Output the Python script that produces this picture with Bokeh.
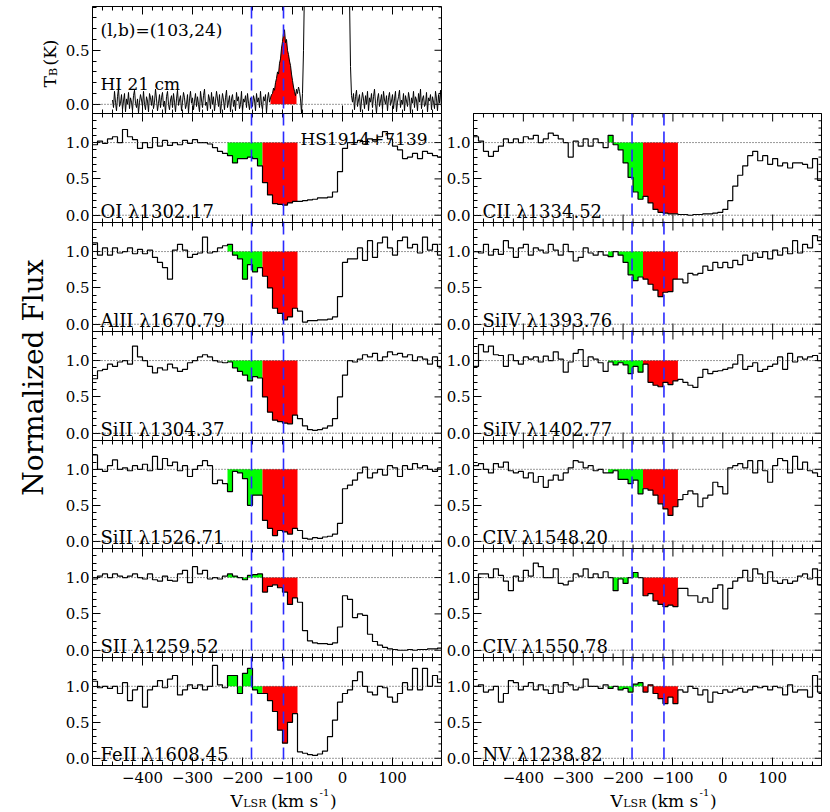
import numpy as np
from bokeh.plotting import figure
from bokeh.layouts import row, column
from bokeh.models import (Range1d, FixedTicker, Span, Label, LinearAxis, Spacer,
                          CustomJSTickFormatter)
from bokeh.embed import file_html
from bokeh.resources import INLINE

FONT = "DejaVu Serif"

# ---------------- data ----------------
vel_edges = np.arange(-500, 201, 10)          # 10 km/s bins, 70 bins
x_major = [-400, -300, -200, -100, 0, 100]
x_minor = list(range(-480, 200, 20))
y_major = [0.0, 0.5, 1.0]
y_minor = [round(-0.1 + 0.1 * i, 1) for i in range(16)]
hi_major = [0.0, 0.5]
hi_minor = [round(-0.1 + 0.1 * i, 1) for i in range(11)]
dash_v = [-182, -118]
green_win = (-230, -160)
red_win = (-160, -90)
hi_red_win = (-144, -92)

HI_v = np.arange(-460, 201, 2)
HI_T = [0.04, -0.03, 0.12, 0.02, -0.06, 0.07, 0.15, -0.02, 0.01, 0.09, -0.05, 0.03, 0.10, -0.07, 0.05, 0.00, 0.11, -0.04, 0.06, 0.02,
        -0.06, 0.08, 0.13, 0.01, -0.03, 0.05, -0.08, 0.02, 0.09, 0.04, -0.02, 0.12, 0.00, -0.05, 0.07, 0.03, -0.07, 0.10, 0.06, -0.01,
        0.08, -0.04, 0.02, 0.14, 0.05, -0.06, 0.01, 0.09, -0.03, 0.06, 0.11, -0.02, 0.03, -0.08, 0.07, 0.12, 0.00, -0.05, 0.04, 0.08,
        -0.03, 0.10, 0.02, -0.07, 0.05, 0.13, -0.01, 0.04, 0.08, -0.06, 0.02, 0.11, 0.06, -0.04, 0.00, 0.09, -0.08, 0.05, 0.12, 0.01,
        0.06, -0.05, 0.03, 0.10, -0.02, 0.07, 0.00, -0.07, 0.12, 0.04, -0.03, 0.08, 0.14, -0.01, 0.02, -0.06, 0.09, 0.05, -0.04, 0.11,
        0.00, 0.07, -0.06, 0.03, 0.12, 0.05, -0.02, 0.09, -0.08, 0.01, 0.10, 0.04, -0.05, 0.06, 0.13, -0.03, 0.02, 0.08, -0.07, 0.05,
        0.09, -0.02, 0.04, -0.06, 0.11, 0.03, 0.07, -0.04, 0.00, 0.12, -0.07, 0.05, 0.02, 0.08, -0.03, 0.10, 0.01, -0.05, 0.06, 0.03,
        -0.02, 0.08, 0.04, -0.06, 0.10, 0.02, 0.06, -0.03, 0.12, 0.00, -0.05, 0.07, 0.03, 0.09, -0.08, 0.05, 0.11, 0.02, 0.06, 0.09,
        0.10, 0.15, 0.13, 0.20, 0.24, 0.30, 0.28, 0.38, 0.42, 0.52, 0.58, 0.66, 0.69, 0.57, 0.60, 0.50, 0.46, 0.40, 0.36, 0.28,
        0.22, 0.16, 0.12, 0.08, 0.14, 0.10, 0.16, 0.12, 0.05, -0.08, 0.10, 0.50, 1.10, 3.00, 3.00, 3.00, 3.00, 3.00, 3.00, 3.00,
        3.00, 3.00, 3.00, 3.00, 3.00, 3.00, 3.00, 3.00, 3.00, 3.00, 3.00, 3.00, 3.00, 3.00, 3.00, 3.00, 3.00, 3.00, 3.00, 3.00,
        3.00, 3.00, 3.00, 3.00, 3.00, 3.00, 3.00, 3.00, 3.00, 3.00, 3.00, 3.00, 3.00, 3.00, 3.00, 3.00, 3.00, 1.00, 0.35, 0.08,
        0.02, 0.10, -0.05, 0.07, 0.13, -0.02, 0.04, 0.09, -0.07, 0.03, 0.11, 0.05, -0.04, 0.08, 0.00, 0.12, -0.06, 0.06, 0.02, 0.10,
        -0.03, 0.07, 0.14, 0.01, -0.08, 0.05, 0.10, -0.02, 0.03, 0.09, -0.05, 0.12, 0.04, 0.00, 0.08, -0.06, 0.06, 0.11, -0.01, 0.03,
        0.09, -0.04, 0.05, 0.12, -0.07, 0.02, 0.07, 0.13, -0.03, 0.04, 0.00, 0.10, -0.06, 0.08, 0.03, -0.02, 0.11, 0.05, -0.08, 0.06,
        0.01, 0.12, -0.03, 0.07, 0.04, -0.06, 0.10, 0.02, 0.14, -0.04, 0.05, 0.08, -0.02, 0.00, 0.11, -0.07, 0.06, 0.03, 0.09, -0.05,
        0.07, 0.02, -0.04, 0.12, 0.05, -0.06, 0.09, 0.01, 0.13, -0.03, 0.06]

OI = [0.97, 1.02, 0.99, 1.05, 1.08, 1.00, 1.18, 1.08, 1.04, 0.92,
      1.00, 0.93, 1.07, 0.95, 1.03, 0.96, 1.00, 0.97, 1.03, 0.99,
      1.04, 1.00, 1.00, 0.98, 0.93, 0.88, 0.85, 0.82, 0.72, 0.78,
      0.78, 0.80, 0.78, 0.68, 0.45, 0.28, 0.16, 0.15, 0.14, 0.17,
      0.19, 0.19, 0.20, 0.21, 0.22, 0.24, 0.24, 0.25, 0.32, 0.60,
      0.92, 1.00, 1.00, 1.03, 0.98, 1.05, 1.02, 1.08, 1.15, 1.05,
      0.95, 0.90, 0.78, 0.80, 0.85, 0.78, 0.88, 0.85, 0.82, 0.80]
AlII = [1.12, 0.95, 1.05, 0.95, 1.05, 0.98, 1.00, 1.05, 0.97, 1.03,
        0.97, 1.02, 0.92, 0.85, 0.78, 0.62, 1.02, 1.10, 1.02, 0.92,
        0.96, 0.98, 1.20, 0.98, 1.00, 1.05, 1.08, 1.10, 0.95, 0.90,
        0.62, 0.82, 0.72, 0.78, 0.66, 0.50, 0.22, 0.15, 0.06, 0.10,
        0.22, 0.18, 0.03, 0.05, 0.05, 0.06, 0.06, 0.07, 0.10, 0.38,
        0.85, 0.90, 0.90, 1.05, 0.88, 1.15, 0.92, 1.12, 1.20, 1.05,
        0.95, 1.15, 1.20, 1.05, 1.10, 0.98, 1.20, 1.02, 1.10, 0.95]
SiII1304 = [0.75, 0.86, 0.88, 0.95, 0.92, 0.98, 1.00, 0.95, 1.20, 1.05,
            1.00, 0.92, 0.83, 0.90, 0.87, 0.95, 0.90, 0.85, 0.88, 0.97,
            1.00, 1.05, 1.08, 1.05, 1.00, 0.98, 0.97, 0.98, 0.90, 0.85,
            0.80, 0.72, 0.78, 0.76, 0.50, 0.29, 0.18, 0.16, 0.14, 0.13,
            0.25, 0.20, 0.10, 0.05, 0.04, 0.05, 0.07, 0.10, 0.20, 0.50,
            0.80, 1.00, 0.98, 1.02, 1.08, 1.05, 1.10, 1.00, 1.05, 1.12,
            1.08, 1.10, 1.05, 1.08, 1.00, 1.05, 1.02, 0.95, 1.05, 0.92]
SiII1526 = [1.20, 1.00, 0.97, 1.05, 1.13, 1.00, 1.02, 0.98, 1.05, 1.00,
            1.07, 0.98, 1.18, 1.00, 1.15, 1.05, 1.10, 0.98, 1.05, 0.90,
            1.00, 1.05, 1.12, 1.05, 0.80, 0.85, 0.80, 0.69, 0.97, 0.95,
            0.87, 0.50, 0.64, 0.64, 0.29, 0.18, 0.08, 0.15, 0.13, 0.10,
            0.18, 0.15, 0.04, 0.03, 0.05, 0.04, 0.06, 0.07, 0.10, 0.25,
            0.73, 0.78, 0.85, 0.95, 1.03, 0.88, 0.95, 1.00, 0.92, 1.05,
            1.02, 0.90, 1.05, 1.00, 1.08, 1.02, 1.05, 1.00, 0.97, 1.02]
SII = [0.98, 1.02, 1.05, 1.00, 1.05, 1.02, 1.00, 1.02, 1.05, 1.00,
       0.98, 1.05, 0.97, 0.95, 1.02, 0.96, 0.95, 1.05, 1.10, 0.93,
       1.15, 1.05, 1.10, 0.98, 1.00, 0.98, 1.02, 1.05, 1.02, 1.00,
       0.97, 1.03, 1.04, 1.05, 0.80, 0.88, 0.90, 0.86, 0.80, 0.63,
       0.72, 0.66, 0.27, 0.13, 0.10, 0.09, 0.09, 0.08, 0.10, 0.32,
       0.75, 0.70, 0.45, 0.50, 0.48, 0.22, 0.12, 0.07, 0.04, 0.02,
       0.01, 0.00, 0.00, 0.01, 0.00, 0.01, 0.01, 0.02, 0.02, 0.03]
FeII = [1.07, 0.98, 1.00, 0.97, 1.00, 0.90, 1.05, 0.80, 0.95, 1.00,
        0.71, 0.95, 1.00, 1.08, 0.98, 1.10, 1.15, 0.88, 0.95, 1.02,
        0.97, 1.02, 0.95, 1.00, 1.29, 1.02, 0.98, 1.15, 1.15, 0.90,
        1.18, 1.25, 0.95, 0.90, 0.90, 0.80, 0.65, 0.39, 0.21, 0.50,
        0.62, 0.09, 0.07, 0.05, 0.04, 0.06, 0.10, 0.30, 0.53, 0.78,
        0.90, 0.95, 1.08, 1.20, 1.00, 0.92, 0.88, 1.00, 0.98, 0.85,
        0.78, 0.90, 1.05, 0.95, 1.25, 0.95, 1.25, 1.00, 1.15, 1.05]
CII = [1.08, 1.02, 0.88, 0.81, 0.88, 0.95, 1.05, 1.00, 1.05, 1.00,
       1.08, 1.05, 1.10, 1.00, 1.05, 1.13, 1.10, 1.05, 1.00, 0.80,
       1.02, 0.95, 1.05, 0.95, 1.05, 1.00, 0.93, 1.10, 0.97, 0.90,
       0.72, 0.52, 0.32, 0.22, 0.26, 0.17, 0.08, 0.04, 0.03, 0.02,
       0.02, 0.01, 0.01, 0.00, 0.01, 0.01, 0.02, 0.02, 0.03, 0.04,
       0.08, 0.20, 0.40, 0.55, 0.68, 0.82, 0.88, 0.75, 0.82, 0.70,
       0.78, 0.68, 0.72, 0.65, 0.72, 0.72, 0.70, 0.65, 0.78, 0.48]
SiIV1393 = [1.00, 0.98, 1.10, 0.95, 1.03, 0.96, 1.15, 1.05, 0.92, 1.05,
            1.10, 0.95, 1.05, 1.02, 0.98, 1.10, 1.02, 0.95, 1.10, 1.00,
            0.87, 0.92, 1.05, 0.98, 0.95, 1.00, 0.95, 0.93, 1.00, 0.95,
            0.85, 0.68, 0.60, 0.65, 0.62, 0.55, 0.47, 0.38, 0.44, 0.45,
            0.62, 0.62, 0.57, 0.70, 0.68, 0.70, 0.80, 0.74, 0.85, 0.78,
            0.85, 0.78, 0.88, 0.82, 0.95, 0.88, 0.98, 0.92, 1.00, 0.90,
            1.02, 0.95, 1.05, 0.97, 1.15, 0.98, 1.10, 1.05, 1.22, 1.15]
SiIV1402 = [0.92, 1.22, 1.12, 1.20, 1.08, 1.07, 0.92, 1.08, 1.00, 0.95,
            1.05, 1.02, 1.05, 0.98, 1.06, 1.00, 1.12, 1.02, 0.84, 0.98,
            1.10, 1.15, 0.92, 1.05, 1.02, 0.97, 0.85, 0.98, 0.94, 0.97,
            0.94, 0.82, 0.92, 0.84, 0.95, 0.70, 0.66, 0.64, 0.70, 0.67,
            0.72, 0.74, 0.70, 0.66, 0.63, 0.77, 0.88, 0.82, 0.85, 0.86,
            0.88, 0.90, 0.95, 1.08, 0.88, 0.92, 0.97, 0.85, 0.88, 0.92,
            0.95, 1.05, 0.88, 1.10, 0.98, 1.05, 1.02, 1.05, 1.07, 1.00]
CIV1548 = [1.05, 1.08, 1.00, 0.95, 1.08, 1.03, 1.10, 0.98, 0.95, 0.97,
           0.88, 0.95, 0.82, 0.90, 0.75, 0.85, 0.92, 0.85, 0.95, 1.02,
           1.12, 1.10, 1.02, 1.05, 0.98, 1.00, 0.95, 0.95, 0.98, 0.86,
           0.86, 0.80, 0.85, 0.66, 0.73, 0.71, 0.64, 0.52, 0.45, 0.36,
           0.48, 0.58, 0.65, 0.70, 0.66, 0.48, 0.60, 0.64, 0.82, 0.76,
           0.66, 1.02, 1.05, 1.08, 1.02, 1.12, 0.95, 1.12, 0.98, 0.82,
           1.05, 1.15, 1.12, 0.95, 1.18, 1.00, 1.10, 0.98, 0.95, 0.90]
CIV1550 = [0.70, 1.05, 1.05, 1.00, 1.12, 1.03, 0.95, 0.82, 1.02, 0.95,
           1.10, 1.02, 1.20, 1.15, 1.00, 1.00, 1.12, 0.92, 0.90, 0.95,
           1.05, 1.02, 1.12, 1.00, 1.05, 1.00, 1.08, 1.00, 0.82, 0.98,
           0.92, 1.00, 1.07, 1.00, 0.75, 0.78, 0.68, 0.63, 0.60, 0.62,
           0.60, 0.85, 0.85, 0.75, 0.75, 0.66, 0.72, 0.66, 0.85, 0.90,
           0.57, 0.85, 0.95, 1.00, 1.10, 0.95, 1.12, 1.05, 0.92, 1.08,
           0.95, 0.92, 0.97, 0.92, 0.95, 1.02, 1.05, 0.98, 1.12, 0.90]
NV = [1.00, 1.02, 0.92, 0.95, 1.00, 0.78, 0.90, 1.08, 1.05, 0.95,
      1.00, 1.05, 0.95, 1.02, 0.95, 0.90, 1.02, 0.92, 1.05, 1.02,
      0.95, 0.98, 1.10, 1.00, 1.00, 0.97, 1.02, 0.97, 1.00, 0.95,
      0.97, 0.92, 1.03, 1.05, 0.92, 1.02, 0.90, 0.83, 0.76, 0.85,
      0.76, 0.95, 0.92, 1.00, 0.97, 0.88, 0.95, 0.78, 0.92, 0.90,
      0.95, 0.92, 0.95, 0.97, 0.92, 0.95, 1.00, 0.98, 1.00, 0.95,
      1.00, 0.98, 0.88, 1.02, 0.92, 0.95, 0.95, 0.85, 1.15, 0.92]

left_spectra = [("OI λ1302.17", OI), ("AlII λ1670.79", AlII),
                ("SiII λ1304.37", SiII1304), ("SiII λ1526.71", SiII1526),
                ("SII λ1259.52", SII), ("FeII λ1608.45", FeII)]
right_spectra = [("CII λ1334.52", CII), ("SiIV λ1393.76", SiIV1393),
                 ("SiIV λ1402.77", SiIV1402), ("CIV λ1548.20", CIV1548),
                 ("CIV λ1550.78", CIV1550), ("NV λ1238.82", NV)]

# ---------------- layout constants ----------------
XR = (-500, 200)
YR = (-0.1, 1.4)
HIR = (-0.085, 0.905)
NF_W = 60
L_BORDER = 32
FW_L = 350
R_BORDER = 31
FW_R = 349
TOP = 6
HI_FH = 107
PANEL_H = [109, 109, 109, 108, 109, 108]
OV = 12            # overlap below non-bottom panels (room for tick labels)
BOT_BORDER = 36    # border under bottom panels (tick labels)
BOT_PULL = 22      # title strip pulled up over that border
TITLE_H = 32
TOTAL_H = TOP + HI_FH + sum(PANEL_H) + BOT_BORDER - BOT_PULL + TITLE_H

xfmt = CustomJSTickFormatter(code="return (tick < 0) ? '\u2212' + Math.abs(tick) : String(tick);")
yfmt = CustomJSTickFormatter(code="return tick.toFixed(1);")


def style_axis(ax, fmt, standoff):
    ax.major_tick_in = 8
    ax.major_tick_out = 0
    ax.minor_tick_in = 4
    ax.minor_tick_out = 0
    ax.axis_line_color = "black"
    ax.major_tick_line_color = "black"
    ax.minor_tick_line_color = "black"
    ax.formatter = fmt
    ax.major_label_text_font = FONT
    ax.major_label_text_font_size = "15px"
    ax.major_label_text_color = "black"
    ax.major_label_standoff = standoff


def add_edge_ticks(p, yr, fh, fw, ymaj, ymin, bottom):
    dx = (XR[1] - XR[0]) / fw
    dy = (yr[1] - yr[0]) / fh
    x0, y0, x1, y1 = [], [], [], []
    xmin_only = [t for t in x_minor if t not in x_major]
    for ticks, L in ((x_major, 8), (xmin_only, 4)):
        for t in ticks:
            x0.append(t); y0.append(yr[1]); x1.append(t); y1.append(yr[1] - L * dy)
            if bottom:
                x0.append(t); y0.append(yr[0]); x1.append(t); y1.append(yr[0] + L * dy)
    ymin_only = [t for t in ymin if t not in ymaj]
    for ticks, L in ((ymaj, 8), (ymin_only, 4)):
        for t in ticks:
            x0.append(XR[1]); y0.append(t); x1.append(XR[1] - L * dx); y1.append(t)
    p.segment(x0=x0, y0=y0, x1=x1, y1=y1, line_color="black", line_width=1)


def make_fig(frame_w, border_l, frame_h, yr, ymaj, ymin, bottom_axis, top_border=0):
    bb = BOT_BORDER if bottom_axis else OV
    pull = BOT_PULL if bottom_axis else OV
    p = figure(frame_width=frame_w, frame_height=frame_h,
               x_range=Range1d(*XR), y_range=Range1d(*yr),
               x_axis_location=None, y_axis_location=None,
               toolbar_location=None, output_backend="svg",
               min_border_left=border_l, min_border_right=0, min_border_top=top_border,
               min_border_bottom=bb, margin=(0, 0, -pull, 0))
    p.xgrid.grid_line_color = None
    p.ygrid.grid_line_color = None
    p.outline_line_color = "black"
    p.background_fill_color = "white"
    p.border_fill_color = None
    yax = LinearAxis(ticker=FixedTicker(ticks=ymaj, minor_ticks=ymin))
    style_axis(yax, yfmt, 3)
    p.add_layout(yax, "left")
    if bottom_axis:
        xax = LinearAxis(ticker=FixedTicker(ticks=x_major, minor_ticks=x_minor))
        style_axis(xax, xfmt, 6)
        p.add_layout(xax, "below")
    add_edge_ticks(p, yr, frame_h, frame_w, ymaj, ymin, not bottom_axis)
    return p


def add_label(p, x, y, text, size, align="left", baseline="alphabetic", angle=0.0):
    p.add_layout(Label(x=x, y=y, text=text, text_font=FONT, text_font_size=size,
                       text_align=align, text_baseline=baseline, angle=angle,
                       text_color="black"))


def add_dashes(p):
    for v in dash_v:
        p.add_layout(Span(location=v, dimension="height", line_color="#2a2aff",
                          line_width=1.6, line_dash="12 6"))


def spectrum_panel(name, flux, frame_w, border_l, frame_h, bottom_axis, left_col):
    p = make_fig(frame_w, border_l, frame_h, YR, y_major, y_minor, bottom_axis)
    f = np.array(flux)
    for (lo, hi), col in ((green_win, "#00ff00"), (red_win, "#ff0000")):
        i0 = int(np.searchsorted(vel_edges, lo))
        i1 = int(np.searchsorted(vel_edges, hi))
        xs = vel_edges[i0:i1 + 1]
        ys = list(f[i0:i1]) + [f[i1 - 1]]
        p.varea_step(x=xs, y1=ys, y2=[1.0] * len(xs), step_mode="after",
                     fill_color=col)
    p.step(x=list(vel_edges), y=list(f) + [f[-1]], mode="after",
           line_color="black", line_width=1.2)
    for loc in (1.0, 0.0):
        p.add_layout(Span(location=loc, dimension="width", line_color="#333333",
                          line_width=1, line_dash="1 2"))
    add_dashes(p)
    kms_per_px = (XR[1] - XR[0]) / frame_w
    add_label(p, XR[0] + (8 if left_col else 9) * kms_per_px, 0.05, name, "18px")
    return p


def title_fig(border_l, frame_w):
    w = border_l + frame_w
    t = figure(frame_width=w, frame_height=TITLE_H, x_range=Range1d(0, w),
               y_range=Range1d(0, TITLE_H), x_axis_location=None, y_axis_location=None,
               toolbar_location=None, output_backend="svg", min_border=0)
    t.outline_line_color = None
    t.background_fill_color = None
    t.border_fill_color = None
    t.xgrid.grid_line_color = None
    t.ygrid.grid_line_color = None
    x0 = border_l + 106
    add_label(t, x0, 11, "V", "17px")
    add_label(t, x0 + 12.8, 8, "LSR", "11px")
    add_label(t, x0 + 40.6, 11, "(km s", "17px")
    add_label(t, x0 + 89, 19, "-1", "10px")
    add_label(t, x0 + 99.5, 11, ")", "17px")
    return t


# ---------------- HI panel ----------------
hi = make_fig(FW_L, L_BORDER, HI_FH, HIR, hi_major, hi_minor, False, top_border=TOP)
hv = np.array(HI_v, dtype=float)
ht = np.array(HI_T)
m = (hv >= hi_red_win[0]) & (hv <= hi_red_win[1])
hi.varea(x=hv[m], y1=0.0, y2=np.clip(ht[m], 0, None), fill_color="#ff0000")
hi.line(hv, ht, line_color="black", line_width=1)
hi.add_layout(Span(location=0.0, dimension="width", line_color="#333333",
                   line_width=1, line_dash="1 2"))
add_dashes(hi)
add_label(hi, -484, 0.685, "(l,b)=(103,24)", "17px")
add_label(hi, -484, 0.19, "HI 21 cm", "17px")

left_figs = [hi]
for i, (name, flux) in enumerate(left_spectra):
    p = spectrum_panel(name, flux, FW_L, L_BORDER, PANEL_H[i],
                       i == len(left_spectra) - 1, True)
    if i == 0:
        add_label(p, 43, 1.045, "HS1914+7139", "17px", align="center")
    left_figs.append(p)
left_figs.append(title_fig(L_BORDER, FW_L))

right_figs = [Spacer(width=R_BORDER + FW_R, height=TOP + HI_FH)]
for i, (name, flux) in enumerate(right_spectra):
    right_figs.append(spectrum_panel(name, flux, FW_R, R_BORDER, PANEL_H[i],
                                     i == len(right_spectra) - 1, False))
right_figs.append(title_fig(R_BORDER, FW_R))

# ---------------- outer y labels ----------------
nf = figure(frame_width=NF_W, frame_height=TOTAL_H, x_range=Range1d(0, NF_W),
            y_range=Range1d(0, TOTAL_H), x_axis_location=None, y_axis_location=None,
            toolbar_location=None, output_backend="svg", min_border=0)
nf.outline_line_color = None
nf.xgrid.grid_line_color = None
nf.ygrid.grid_line_color = None
add_label(nf, 33, TOTAL_H - 377, "Normalized Flux", "28px",
          align="center", angle=np.pi / 2)
add_label(nf, 49, TOTAL_H - 87, "T", "17px", angle=np.pi / 2)
add_label(nf, 53, TOTAL_H - 87 + 11.5, "B", "11px", angle=np.pi / 2)
add_label(nf, 49, TOTAL_H - 87 + 22, "(K)", "17px", angle=np.pi / 2)

layout = row(nf, column(*left_figs), column(*right_figs))
open("out.html", "w").write(file_html(layout, INLINE))
